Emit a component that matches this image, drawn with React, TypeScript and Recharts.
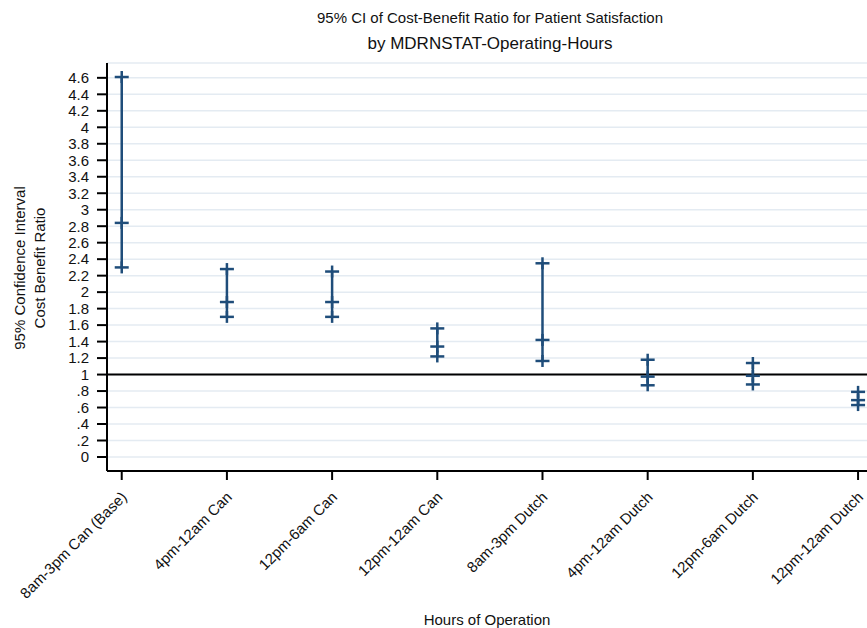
import { ComposedChart, CartesianGrid, ErrorBar, ReferenceLine, Scatter, XAxis, YAxis } from "recharts";

const categories = [
  "8am-3pm Can (Base)",
  "4pm-12am Can",
  "12pm-6am Can",
  "12pm-12am Can",
  "8am-3pm Dutch",
  "4pm-12am Dutch",
  "12pm-6am Dutch",
  "12pm-12am Dutch",
];
const lower = [2.3, 1.7, 1.7, 1.22, 1.165, 0.87, 0.88, 0.63];
const estimate = [2.84, 1.88, 1.88, 1.34, 1.42, 0.975, 0.985, 0.69];
const upper = [4.61, 2.28, 2.25, 1.56, 2.35, 1.18, 1.14, 0.79];
const yTicks = [0, 0.2, 0.4, 0.6, 0.8, 1, 1.2, 1.4, 1.6, 1.8, 2, 2.2, 2.4, 2.6, 2.8, 3, 3.2, 3.4, 3.6, 3.8, 4, 4.2, 4.4, 4.6];

const BLUE = "#1f4d7a";
const FONT = "'Liberation Sans', Arial, sans-serif";

const data = categories.map((name, i) => ({
  x: i,
  name,
  lo: lower[i],
  mid: estimate[i],
  hi: upper[i],
  err: [estimate[i] - lower[i], upper[i] - estimate[i]],
}));

function Plus(props: any) {
  const { cx, cy } = props;
  if (cx == null || cy == null) return null;
  return (
    <g stroke={BLUE} strokeWidth={2.5}>
      <line x1={cx - 7} x2={cx + 7} y1={cy} y2={cy} />
      <line x1={cx} x2={cx} y1={cy - 6} y2={cy + 6} />
    </g>
  );
}

function fmtY(v: number) {
  if (v === 0) return "0";
  const s = String(Math.round(v * 10) / 10);
  return s.startsWith("0.") ? s.slice(1) : s;
}

function XTick(props: any) {
  const { x, y, payload } = props;
  const px = x + 6;
  const py = y + 16;
  return (
    <text
      x={px}
      y={py}
      transform={`rotate(-45, ${px}, ${py})`}
      textAnchor="end"
      fontSize={15}
      fontFamily={FONT}
      fill="#111"
    >
      {categories[payload.value]}
    </text>
  );
}

export default function App() {
  return (
    <div style={{ position: "absolute", left: 0, top: 0, width: 867, height: 628, background: "#fff", fontFamily: FONT }}>
      <div style={{ position: "absolute", left: 0, width: 980, top: 9, textAlign: "center", fontSize: 15, color: "#111" }}>
        95% CI of Cost-Benefit Ratio for Patient Satisfaction
      </div>
      <div style={{ position: "absolute", left: 0, width: 980, top: 34, textAlign: "center", fontSize: 17, color: "#111" }}>
        by MDRNSTAT-Operating-Hours
      </div>
      <ComposedChart width={867} height={628} data={data} margin={{ top: 63, right: 0, bottom: 0, left: 0 }}>
        <CartesianGrid horizontal vertical={false} stroke="#e4ebf2" strokeWidth={1.5} />
        <XAxis
          dataKey="x"
          type="number"
          domain={[-0.14, 7.085]}
          ticks={[0, 1, 2, 3, 4, 5, 6, 7]}
          allowDataOverflow
          height={157}
          interval={0}
          tick={<XTick />}
          tickSize={9}
          stroke="#000"
          strokeWidth={2}
          label={{ value: "Hours of Operation", position: "insideBottom", offset: 3, fontSize: 15, fill: "#111", fontFamily: FONT }}
        />
        <YAxis
          type="number"
          domain={[-0.17, 4.78]}
          ticks={yTicks}
          interval={0}
          allowDataOverflow
          width={107}
          tickFormatter={fmtY}
          tickSize={10}
          tickMargin={8}
          stroke="#000"
          strokeWidth={2}
          tick={{ fill: "#111", fontSize: 15, fontFamily: FONT }}
        />
        <ReferenceLine y={1} stroke="#000" strokeWidth={2} />
        <Scatter dataKey="mid" shape={<Plus />} isAnimationActive={false}>
          <ErrorBar dataKey="err" direction="y" width={0} stroke={BLUE} strokeWidth={2.5} />
        </Scatter>
        <Scatter dataKey="lo" shape={<Plus />} isAnimationActive={false} />
        <Scatter dataKey="hi" shape={<Plus />} isAnimationActive={false} />
      </ComposedChart>
      <div
        style={{
          position: "absolute",
          left: 30,
          top: 268,
          transform: "translate(-50%, -50%) rotate(-90deg)",
          fontSize: 15,
          color: "#111",
          textAlign: "center",
          lineHeight: "20px",
          whiteSpace: "nowrap",
        }}
      >
        95% Confidence Interval
        <br />
        Cost Benefit Ratio
      </div>
    </div>
  );
}
